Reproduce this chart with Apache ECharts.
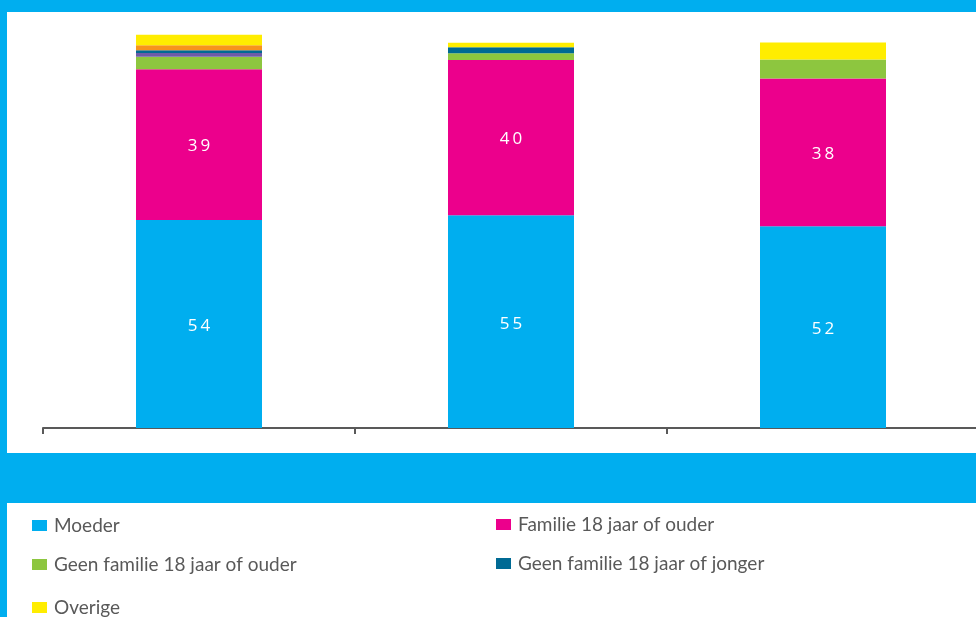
<!DOCTYPE html>
<html>
<head>
<meta charset="utf-8">
<script src="https://cdn.jsdelivr.net/npm/echarts@6/dist/echarts.min.js"></script>
<style>html,body{margin:0;padding:0;background:#00AEEF;overflow:hidden;}#c{width:979px;height:617px;}</style>
</head>
<body>
<div id="c"></div>
<script>
var categories = ['Groep 1', 'Groep 2', 'Groep 3'];
var moeder = [53.8, 55.0, 52.2];
var familieOuder = [39.0, 40.2, 38.2];
var geenFamilieOuder = [3.2, 1.7, 4.9];
var overigPaars = [1.0, 0, 0];
var geenFamilieJonger = [0.7, 1.55, 0];
var overigOranje = [1.3, 0, 0];
var overige = [2.7, 1.2, 4.4];

var chart = echarts.init(document.getElementById('c'));
var font = 'Lato, "Open Sans", sans-serif';
function s(name, data, color, lbl) {
  return {
    name: name, type: 'bar', stack: 'a', data: data, barWidth: 126, clip: false,
    itemStyle: { color: color },
    label: lbl ? {
      show: true, position: 'inside', color: '#fff', fontSize: 17, offset: [0, 2],
      fontFamily: '"Open Sans", sans-serif',
      formatter: function (p) { return String(Math.round(p.value)).split('').join('\u2009'); }
    } : { show: false }
  };
}
function lg(name, left, top) {
  return {
    data: [name], left: left, top: top, itemWidth: 15, itemHeight: 11, icon: 'rect',
    selectedMode: false, textStyle: { fontSize: 19, color: '#595959', fontFamily: font, padding: [0, 0, 0, 2] }
  };
}
chart.setOption({
  backgroundColor: '#00AEEF',
  animation: false,
  graphic: [
    { type: 'rect', z: -10, shape: { x: 7, y: 12, width: 980, height: 441 }, style: { fill: '#fff' } },
    { type: 'rect', z: -10, shape: { x: 7, y: 503, width: 980, height: 114 }, style: { fill: '#fff' } }
  ],
  grid: { left: 43, right: 0, top: 22, bottom: 189 },
  xAxis: {
    type: 'category', data: categories,
    axisLine: { lineStyle: { color: '#595959', width: 2 } },
    axisTick: { show: true, length: 6, lineStyle: { color: '#595959', width: 2 } },
    axisLabel: { show: false }
  },
  yAxis: { type: 'value', min: 0, max: 105, show: false, splitLine: { show: false } },
  legend: [
    lg('Moeder', 27, 511),
    lg('Familie 18 jaar of ouder', 491, 510),
    lg('Geen familie 18 jaar of ouder', 27, 550),
    lg('Geen familie 18 jaar of jonger', 491, 549),
    lg('Overige', 27, 593)
  ],
  series: [
    s('Moeder', moeder, '#00AEEF', true),
    s('Familie 18 jaar of ouder', familieOuder, '#EC008C', true),
    s('Geen familie 18 jaar of ouder', geenFamilieOuder, '#8DC63F', false),
    s('Overig (paars)', overigPaars, '#6E5BA8', false),
    s('Geen familie 18 jaar of jonger', geenFamilieJonger, '#006A94', false),
    s('Overig (oranje)', overigOranje, '#F7941D', false),
    s('Overige', overige, '#FFED00', false)
  ]
});
</script>
</body>
</html>
